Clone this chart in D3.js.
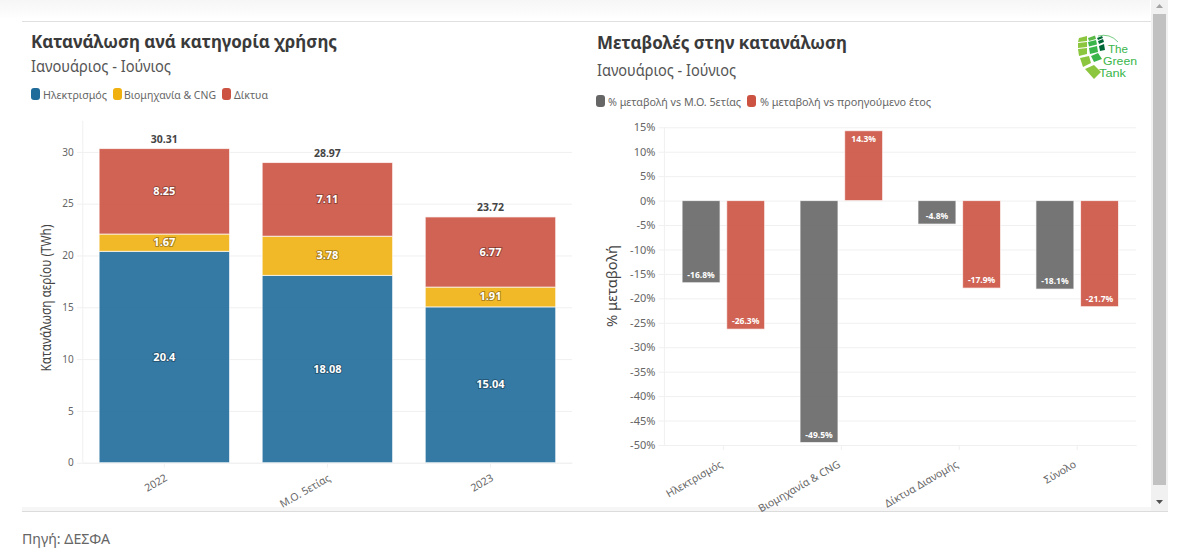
<!DOCTYPE html>
<html>
<head>
<meta charset="utf-8">
<script src="https://cdn.jsdelivr.net/npm/d3@7"></script>
<style>
  html, body { margin: 0; padding: 0; background: #fff; overflow: hidden; }
  text { font-family: "Noto Sans", sans-serif; }
</style>
</head>
<body>
<svg id="chart" width="1182" height="556"></svg>
<script>
// Left chart data (TWh)
const periods = ['2022', 'Μ.Ο. 5ετίας', '2023'];
const stackKeys = ['Ηλεκτρισμός', 'Βιομηχανία & CNG', 'Δίκτυα'];
const electricity = [20.4, 18.08, 15.04];
const industry = [1.67, 3.78, 1.91];
const networks = [8.25, 7.11, 6.77];
const totals = [30.31, 28.97, 23.72];
const leftTicks = [0, 5, 10, 15, 20, 25, 30];

// Right chart data (%)
const changeCats = ['Ηλεκτρισμός', 'Βιομηχανία & CNG', 'Δίκτυα Διανομής', 'Σύνολο'];
const changeKeys = ['% μεταβολή vs Μ.Ο. 5ετίας', '% μεταβολή vs προηγούμενο έτος'];
const vsAverage = [-16.8, -49.5, -4.8, -18.1];
const vsPrevious = [-26.3, 14.3, -17.9, -21.7];
const rightTicks = d3.range(-50, 16, 5);

const stackColors = ['#1f6c9a', '#efb010', '#cc5241'];
const changeColors = ['#666666', '#cc5241'];
const grid = '#f0f0f0', axisText = '#666';

const svg = d3.select('#chart');

// text helper, width squeezes the fallback font to the width seen in the picture
function label(g, x, y, str, size, color, width, weight) {
    const t = g.append('text').attr('x', x).attr('y', y).text(str)
        .style('font-size', size + 'px').style('fill', color)
        .style('font-weight', weight || 400);
    if (width) t.attr('textLength', width).attr('lengthAdjust', 'spacingAndGlyphs');
    return t;
}

function legendItem(x, y, color, str, textX, width) {
    svg.append('rect').attr('x', x).attr('y', y).attr('width', 9).attr('height', 12)
        .attr('rx', 3).attr('fill', color);
    label(svg, textX, y + 10.5, str, 11.5, '#666', width);
}

// page frame
const topFade = svg.append('defs').append('linearGradient')
    .attr('id', 'fade').attr('x1', 0).attr('x2', 0).attr('y1', 0).attr('y2', 1);
topFade.append('stop').attr('offset', 0).attr('stop-color', '#f6f6f6');
topFade.append('stop').attr('offset', 1).attr('stop-color', '#fff');
svg.append('rect').attr('x', 0).attr('y', 0).attr('width', 1150).attr('height', 20).attr('fill', 'url(#fade)');
svg.append('line').attr('x1', 22).attr('x2', 1151).attr('y1', 21.5).attr('y2', 21.5).attr('stroke', '#e0e0e0');
svg.append('rect').attr('x', 22).attr('y', 507).attr('width', 1146).attr('height', 4).attr('fill', '#f6f6f6');
svg.append('line').attr('x1', 22).attr('x2', 1168).attr('y1', 511.5).attr('y2', 511.5).attr('stroke', '#dcdcdc');

// scrollbar
svg.append('rect').attr('x', 1151).attr('y', 0).attr('width', 17).attr('height', 511).attr('fill', '#f1f1f1');
svg.append('rect').attr('x', 1153).attr('y', 14).attr('width', 13).attr('height', 471).attr('fill', '#c1c1c1');
svg.append('path').attr('d', 'M1156 8 L1163 8 L1159.5 4 Z').attr('fill', '#a3a3a3');
svg.append('path').attr('d', 'M1156 500 L1163 500 L1159.5 504 Z').attr('fill', '#505050');

// headings
label(svg, 31, 48, 'Κατανάλωση ανά κατηγορία χρήσης', 18, '#3a3a3a', 306, 700);
label(svg, 31, 72, 'Ιανουάριος - Ιούνιος', 15.5, '#555', 140);
label(svg, 597, 49, 'Μεταβολές στην κατανάλωση', 18, '#3a3a3a', 250, 700);
label(svg, 597, 76, 'Ιανουάριος - Ιούνιος', 15.5, '#555', 139);
label(svg, 22, 544, 'Πηγή: ΔΕΣΦΑ', 14, '#666', 88);

// legends
legendItem(31, 88, stackColors[0], stackKeys[0], 43, 64);
legendItem(113, 88, stackColors[1], stackKeys[1], 124, 92);
legendItem(222, 88, stackColors[2], stackKeys[2], 234, 34);
legendItem(596, 95, changeColors[0], changeKeys[0], 608, 133);
legendItem(747, 95, changeColors[1], changeKeys[1], 760, 171);

// ---- left chart: stacked bars
const y = d3.scaleLinear().domain([0, 33]).range([462.7, 120.8]);
const x = d3.scaleBand().domain(periods).range([82.8, 572]).paddingInner(0.2).paddingOuter(0.1);

const leftAxisY = svg.append('g').attr('transform', 'translate(82.8,0)')
    .call(d3.axisLeft(y).tickValues(leftTicks).tickSize(6).tickPadding(3));
leftAxisY.select('.domain').attr('stroke', grid).attr('d', 'M0,120.8V462.7');
leftAxisY.selectAll('.tick line').attr('stroke', grid).attr('x1', -6).attr('x2', 572 - 82.8);
leftAxisY.selectAll('text').style('font-size', '10px').style('fill', axisText);

const leftAxisX = svg.append('g').attr('transform', 'translate(0,462.7)')
    .call(d3.axisBottom(x).tickSize(5).tickSizeOuter(0));
leftAxisX.select('.domain').attr('stroke', grid);
leftAxisX.selectAll('.tick line').attr('stroke', grid);
leftAxisX.selectAll('text')
    .attr('text-anchor', 'end')
    .attr('transform', 'translate(-4,4) rotate(-30)')
    .style('font-size', '10.5px').style('fill', axisText);

const rows = periods.map((p, i) => ({
    period: p,
    [stackKeys[0]]: electricity[i],
    [stackKeys[1]]: industry[i],
    [stackKeys[2]]: networks[i]
}));
const series = d3.stack().keys(stackKeys)(rows);

series.forEach((s, k) => {
    const g = svg.append('g');
    g.selectAll('rect').data(s).join('rect')
        .attr('x', d => x(d.data.period))
        .attr('y', d => y(d[1]))
        .attr('width', x.bandwidth())
        .attr('height', d => y(d[0]) - y(d[1]))
        .attr('fill', stackColors[k]).attr('fill-opacity', 0.9)
        .attr('stroke', '#fff').attr('stroke-opacity', 0.7);
    g.selectAll('text').data(s).join('text')
        .attr('x', d => x(d.data.period) + x.bandwidth() / 2)
        .attr('y', d => (y(d[0]) + y(d[1])) / 2 + 3.5)
        .attr('text-anchor', 'middle')
        .text(d => d.data[stackKeys[k]])
        .style('font-size', '11px').style('font-weight', 700).style('fill', '#fff')
        .style('paint-order', 'stroke').style('stroke', 'rgba(0,0,0,0.3)').style('stroke-width', '2px');
});

svg.append('g').selectAll('text').data(periods).join('text')
    .attr('x', d => x(d) + x.bandwidth() / 2)
    .attr('y', (d, i) => y(totals[i]) - 6)
    .attr('text-anchor', 'middle')
    .text((d, i) => totals[i])
    .style('font-size', '10.5px').style('font-weight', 700).style('fill', '#444');

label(svg, 0, 0, 'Κατανάλωση αερίου (TWh)', 14, '#444', 147)
    .attr('text-anchor', 'middle').attr('transform', 'translate(51,298) rotate(-90)');

// ---- right chart: grouped bars
const y2 = d3.scaleLinear().domain([-50, 15]).range([445, 127.3]);
const x2 = d3.scaleBand().domain(changeCats).range([664.4, 1136.2]).paddingInner(0.3).paddingOuter(0.15);
const inner = d3.scaleBand().domain(changeKeys).range([0, x2.bandwidth()]).paddingInner(0.15);

const rightAxisY = svg.append('g').attr('transform', 'translate(664.4,0)')
    .call(d3.axisLeft(y2).tickValues(rightTicks).tickSize(6).tickPadding(3).tickFormat(d => d + '%'));
rightAxisY.select('.domain').attr('stroke', grid).attr('d', 'M0,127.3V445');
rightAxisY.selectAll('.tick line').attr('stroke', grid).attr('x1', -6).attr('x2', 1136.2 - 664.4);
rightAxisY.selectAll('text').style('font-size', '11px').style('fill', axisText);

const rightAxisX = svg.append('g').attr('transform', 'translate(0,445)')
    .call(d3.axisBottom(x2).tickSize(5).tickSizeOuter(0));
rightAxisX.select('.domain').attr('stroke', grid);
rightAxisX.selectAll('.tick line').attr('stroke', grid);
rightAxisX.selectAll('text')
    .attr('text-anchor', 'end')
    .attr('transform', 'translate(-8,8) rotate(-30)')
    .style('font-size', '10.5px').style('fill', axisText);

[vsAverage, vsPrevious].forEach((vals, k) => {
    const g = svg.append('g');
    const bx = (d, i) => x2(changeCats[i]) + inner(changeKeys[k]);
    g.selectAll('rect').data(vals).join('rect')
        .attr('x', bx)
        .attr('y', d => Math.min(y2(d), y2(0)))
        .attr('width', inner.bandwidth())
        .attr('height', d => Math.abs(y2(d) - y2(0)))
        .attr('fill', changeColors[k]).attr('fill-opacity', 0.9)
        .attr('stroke', '#fff').attr('stroke-opacity', 0.7);
    g.selectAll('text').data(vals).join('text')
        .attr('x', (d, i) => bx(d, i) + inner.bandwidth() / 2)
        .attr('y', d => d < 0 ? y2(d) - 5 : y2(d) + 11)
        .attr('text-anchor', 'middle')
        .text(d => d + '%')
        .style('font-size', '8.5px').style('font-weight', 700).style('fill', '#fff');
});

label(svg, 0, 0, '% μεταβολή', 14, '#444', 82)
    .attr('text-anchor', 'middle').attr('transform', 'translate(617,286) rotate(-90)');

// ---- logo
const logo = svg.append('g');
const tiles = [
    ['#8cc63f', '1079,38 1087,36 1087,41 1078,42'],
    ['#8cc63f', '1078,43 1087,42 1087,47 1078,48'],
    ['#8cc63f', '1078,49 1087,48 1087,54 1079,56'],
    ['#8cc63f', '1080,58 1089,56 1091,63 1083,67'],
    ['#8cc63f', '1085,69 1094,65 1101,72 1094,79'],
    ['#5bb947', '1088,38 1095,35.5 1096,39 1089,41'],
    ['#39b54a', '1088,42 1096,40 1097,44.5 1089,46.5'],
    ['#39b54a', '1089,48 1097,46 1098,52 1090,54'],
    ['#39b54a', '1091,56 1098,53 1102,59 1094,62'],
    ['#006837', '1097,38 1102,36 1103,38 1098,40'],
    ['#006837', '1098,41 1103,39 1104,42 1099,44'],
    ['#006837', '1099,46 1104,44 1105,50 1100,51']
];
logo.selectAll('polygon').data(tiles).join('polygon')
    .attr('points', d => d[1]).attr('fill', d => d[0]);
logo.append('path').attr('d', 'M1098 36 Q1110 33 1118 42').attr('fill', 'none').attr('stroke', '#39b54a').attr('stroke-width', 0.7);
// Liberation has a tighter line box, so the three lines stay clear of each other
[['The', 1108, 53, 20], ['Green', 1103, 65, 34], ['Tank', 1099, 77, 27]].forEach(d => {
    label(logo, d[1], d[2], d[0], 10.4, '#39b54a', d[3]).style('font-family', '"Liberation Sans", sans-serif');
});
</script>
</body>
</html>
